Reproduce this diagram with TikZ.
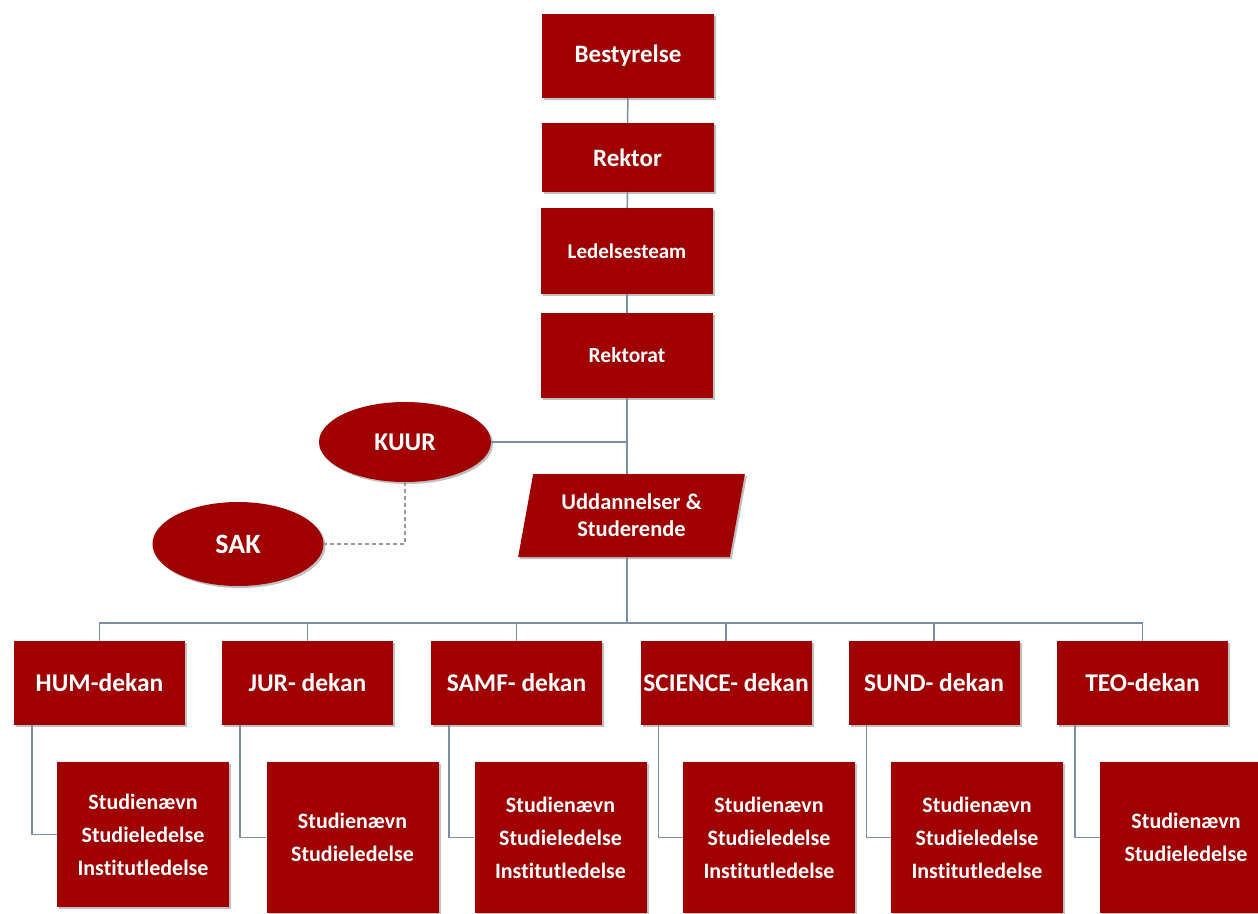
\documentclass[tikz,border=0pt]{standalone}
\usepackage{fontspec}
\setmainfont{Carlito}[Ligatures=NoCommon]
\usetikzlibrary{shapes.geometric,shadows}
\definecolor{boxred}{RGB}{160,0,0}
\definecolor{linec}{RGB}{122,143,166}
\begin{document}
\begin{tikzpicture}[x=1pt,y=-1pt,
  base/.style={fill=boxred,text=white,inner sep=0pt,align=center,
    font=\bfseries,
    drop shadow={shadow xshift=2pt,shadow yshift=-2pt,opacity=0.25,fill=black}},
  topbox/.style={base,rectangle,minimum width=172pt},
  deanbox/.style={base,rectangle,minimum width=171pt,minimum height=84pt,
    font=\fontsize{25.5}{30}\selectfont\bfseries},
  subbox/.style={base,rectangle,minimum width=172pt,minimum height=151pt,
    font=\fontsize{22}{33}\selectfont\bfseries},
  oval/.style={base,ellipse,minimum width=172pt,minimum height=80pt},
  para/.style={base,trapezium,trapezium left angle=76,trapezium right angle=104,
    trapezium stretches=true,minimum width=227pt,minimum height=83pt,
    font=\fontsize{22.5}{27}\selectfont\bfseries},
  conn/.style={draw=linec,line width=1.5pt},
  dconn/.style={draw=gray!80,line width=1.5pt,dash pattern=on 4pt off 3pt}]
\useasboundingbox (0,0) rectangle (1258,913);
\fill[white] (0,0) rectangle (1258,913);

\coordinate (bus) at (627,623);

% top chain
\node[topbox,minimum height=84pt,font=\fontsize{25}{28}\selectfont\bfseries] (best) at (628,56) {Bestyrelse};
\node[topbox,minimum height=69pt,font=\fontsize{25}{28}\selectfont\bfseries] (rektor) at (627.5,157.5) {Rektor};
\node[topbox,minimum height=86pt,font=\fontsize{21}{24}\selectfont\bfseries] (ledel) at (627,251) {Ledelsesteam};
\node[topbox,minimum height=85pt,font=\fontsize{21.5}{24}\selectfont\bfseries] (rekt) at (627,355.5) {Rektorat};

\node[para] (udd) at (631.5,515.5) {Uddannelser \&\\Studerende};

\node[oval,font=\fontsize{25.5}{30}\selectfont\bfseries] (kuur) at (405,442) {KUUR};
\node[oval,minimum width=171pt,minimum height=84pt,font=\fontsize{28}{32}\selectfont\bfseries] (sak) at (238,544) {SAK};

% deans
\node[deanbox] (hum)  at (99.5,683)  {HUM-dekan};
\node[deanbox] (jur)  at (307.5,683) {JUR- dekan};
\node[deanbox] (samf) at (516.5,683) {SAMF- dekan};
\node[deanbox] (sci)  at (726,683)   {SCIENCE- dekan};
\node[deanbox] (sund) at (934,683)   {SUND- dekan};
\node[deanbox] (teo)  at (1142.5,683){TEO-dekan};

% sub boxes
\node[subbox,minimum height=145pt] (humsub) at (143,834.5) {Studienævn\\Studieledelse\\Institutledelse};
\node[subbox] (jursub)  at (352.5,837.5) {Studienævn\\Studieledelse};
\node[subbox] (samfsub) at (560.5,837.5) {Studienævn\\Studieledelse\\Institutledelse};
\node[subbox] (scisub)  at (769,837.5)   {Studienævn\\Studieledelse\\Institutledelse};
\node[subbox] (sundsub) at (977,837.5)   {Studienævn\\Studieledelse\\Institutledelse};
\node[subbox] (teosub)  at (1186,837.5)  {Studienævn\\Studieledelse};

% connectors
\path[conn] (best) -- (rektor);
\path[conn] (rektor) -- (ledel);
\path[conn] (ledel) -- (rekt);
\path[conn] (rekt.south) -- (rekt.south |- udd.north);
\path[conn] (kuur.east) -- (kuur.east -| bus);
\path[conn] (bus |- udd.south) -- (bus);
\path[dconn] (kuur.south) |- (sak.east);

\foreach \d in {hum,jur,samf,sci,sund,teo}{
  \path[conn] (bus) -| (\d.north);
  \path[conn] ([xshift=18pt]\d.south west) |- (\d sub.west);
}
\end{tikzpicture}
\end{document}
